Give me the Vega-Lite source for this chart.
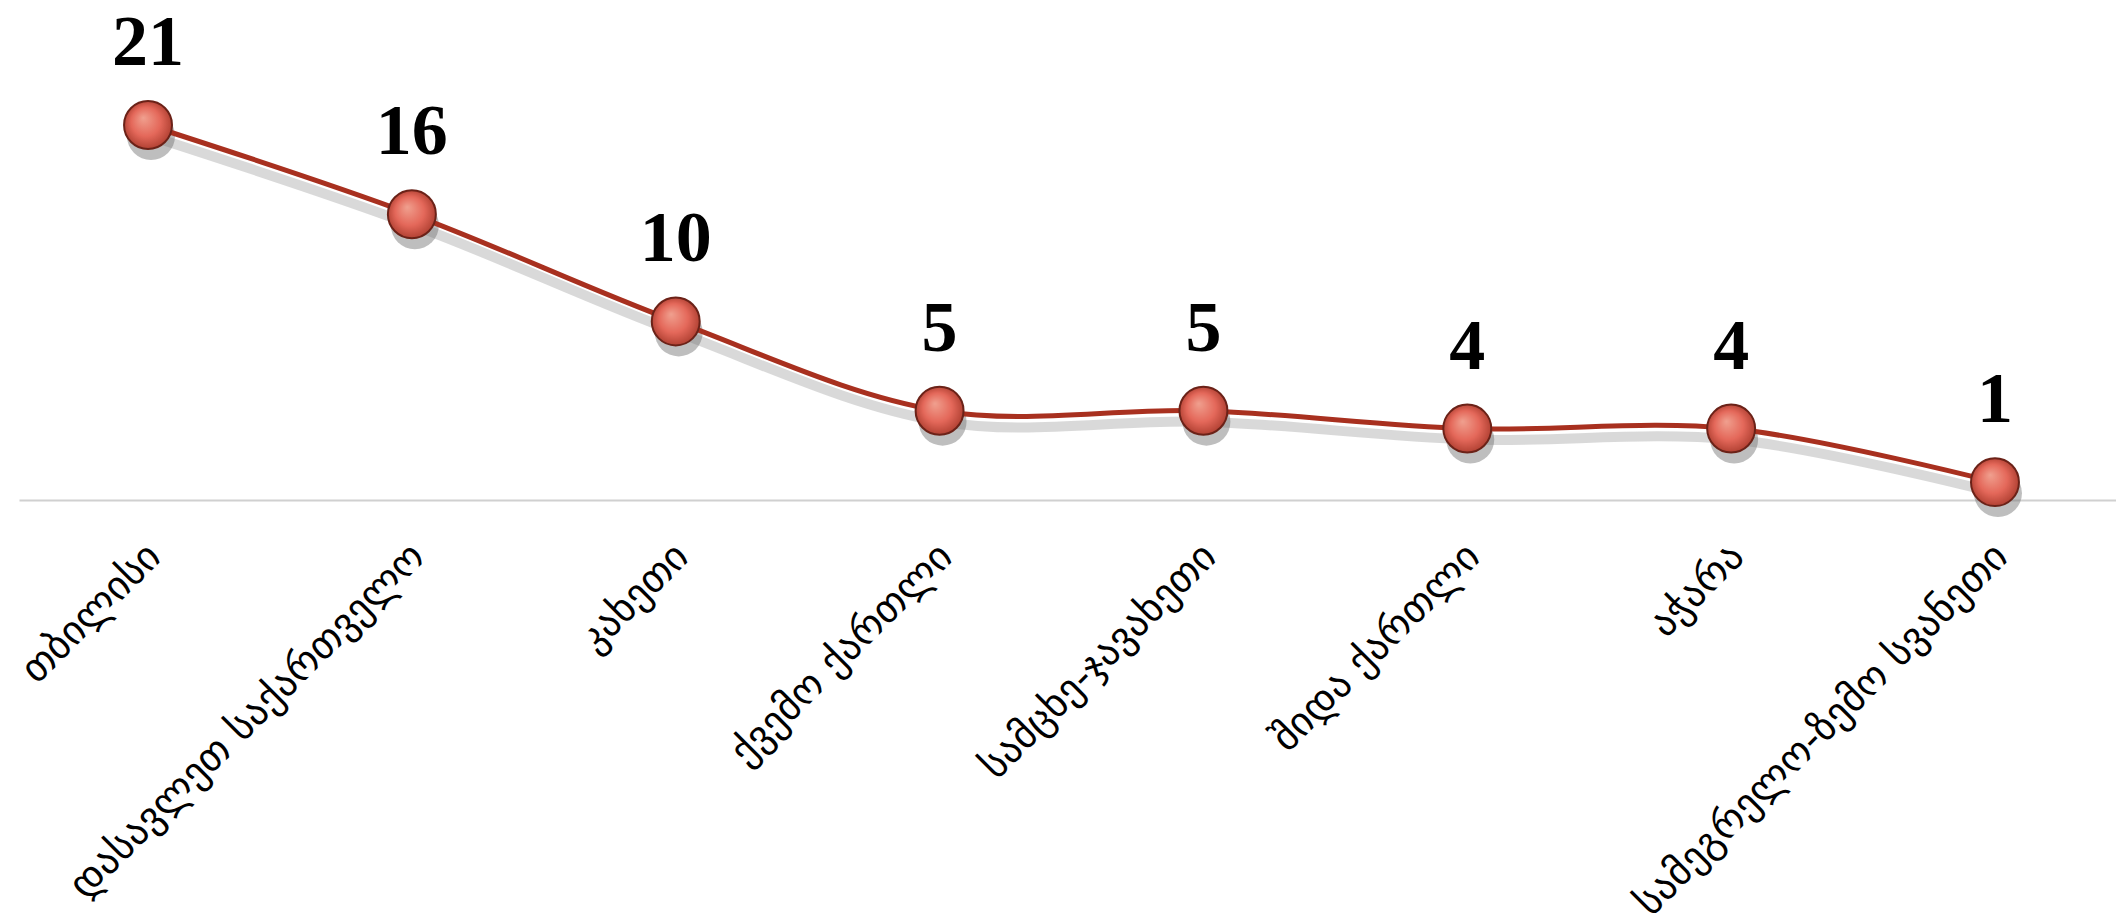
{
  "$schema": "https://vega.github.io/schema/vega-lite/v6.json",
  "width": 2105,
  "height": 500,
  "autosize": {"type": "none"},
  "padding": {"left": 19, "top": 0, "right": 0, "bottom": 424},
  "background": "white",
  "config": {"view": {"stroke": null}},
  "data": {
    "values": [
      {"region": "თბილისი", "value": 21},
      {"region": "დასავლეთ საქართველო", "value": 16},
      {"region": "კახეთი", "value": 10},
      {"region": "ქვემო ქართლი", "value": 5},
      {"region": "სამცხე-ჯავახეთი", "value": 5},
      {"region": "შიდა ქართლი", "value": 4},
      {"region": "აჭარა", "value": 4},
      {"region": "სამეგრელო-ზემო სვანეთი", "value": 1}
    ]
  },
  "encoding": {
    "x": {
      "field": "region",
      "type": "nominal",
      "sort": null,
      "scale": {"type": "point", "padding": 0.489},
      "axis": {
        "title": null,
        "ticks": false,
        "grid": false,
        "domainColor": "#d0d0d0",
        "domainWidth": 2,
        "labelAngle": -45,
        "labelAlign": "right",
        "labelBaseline": "middle",
        "labelPadding": 50,
        "labelOffset": 6,
        "labelFont": "DejaVu Sans",
        "labelFontSize": 40,
        "labelColor": "#000000",
        "labelLimit": 0
      }
    },
    "y": {
      "field": "value",
      "type": "quantitative",
      "scale": {"domain": [0, 28]},
      "axis": null
    }
  },
  "layer": [
    {
      "mark": {"type": "line", "interpolate": "catmull-rom", "stroke": "#808080", "strokeWidth": 10, "opacity": 0.3, "yOffset": 11, "xOffset": 2}
    },
    {
      "mark": {"type": "point", "filled": true, "shape": "circle", "size": 2300, "color": "#6e6e6e", "opacity": 0.45, "yOffset": 11, "xOffset": 3}
    },
    {
      "mark": {"type": "line", "interpolate": "catmull-rom", "stroke": "#a8301f", "strokeWidth": 5}
    },
    {
      "mark": {
        "type": "point",
        "filled": true,
        "shape": "circle",
        "size": 2300,
        "opacity": 1,
        "fill": {
          "gradient": "radial",
          "x1": 0.4, "y1": 0.35, "r1": 0,
          "x2": 0.5, "y2": 0.5, "r2": 0.55,
          "stops": [
            {"offset": 0, "color": "#f0a08f"},
            {"offset": 0.55, "color": "#e4685a"},
            {"offset": 1, "color": "#a83a2c"}
          ]
        },
        "stroke": "#6b2218",
        "strokeWidth": 2
      }
    },
    {
      "mark": {"type": "text", "font": "Liberation Serif", "fontWeight": "bold", "fontSize": 72, "color": "#000000", "baseline": "middle", "dy": -82},
      "encoding": {"text": {"field": "value", "type": "quantitative"}}
    }
  ]
}
